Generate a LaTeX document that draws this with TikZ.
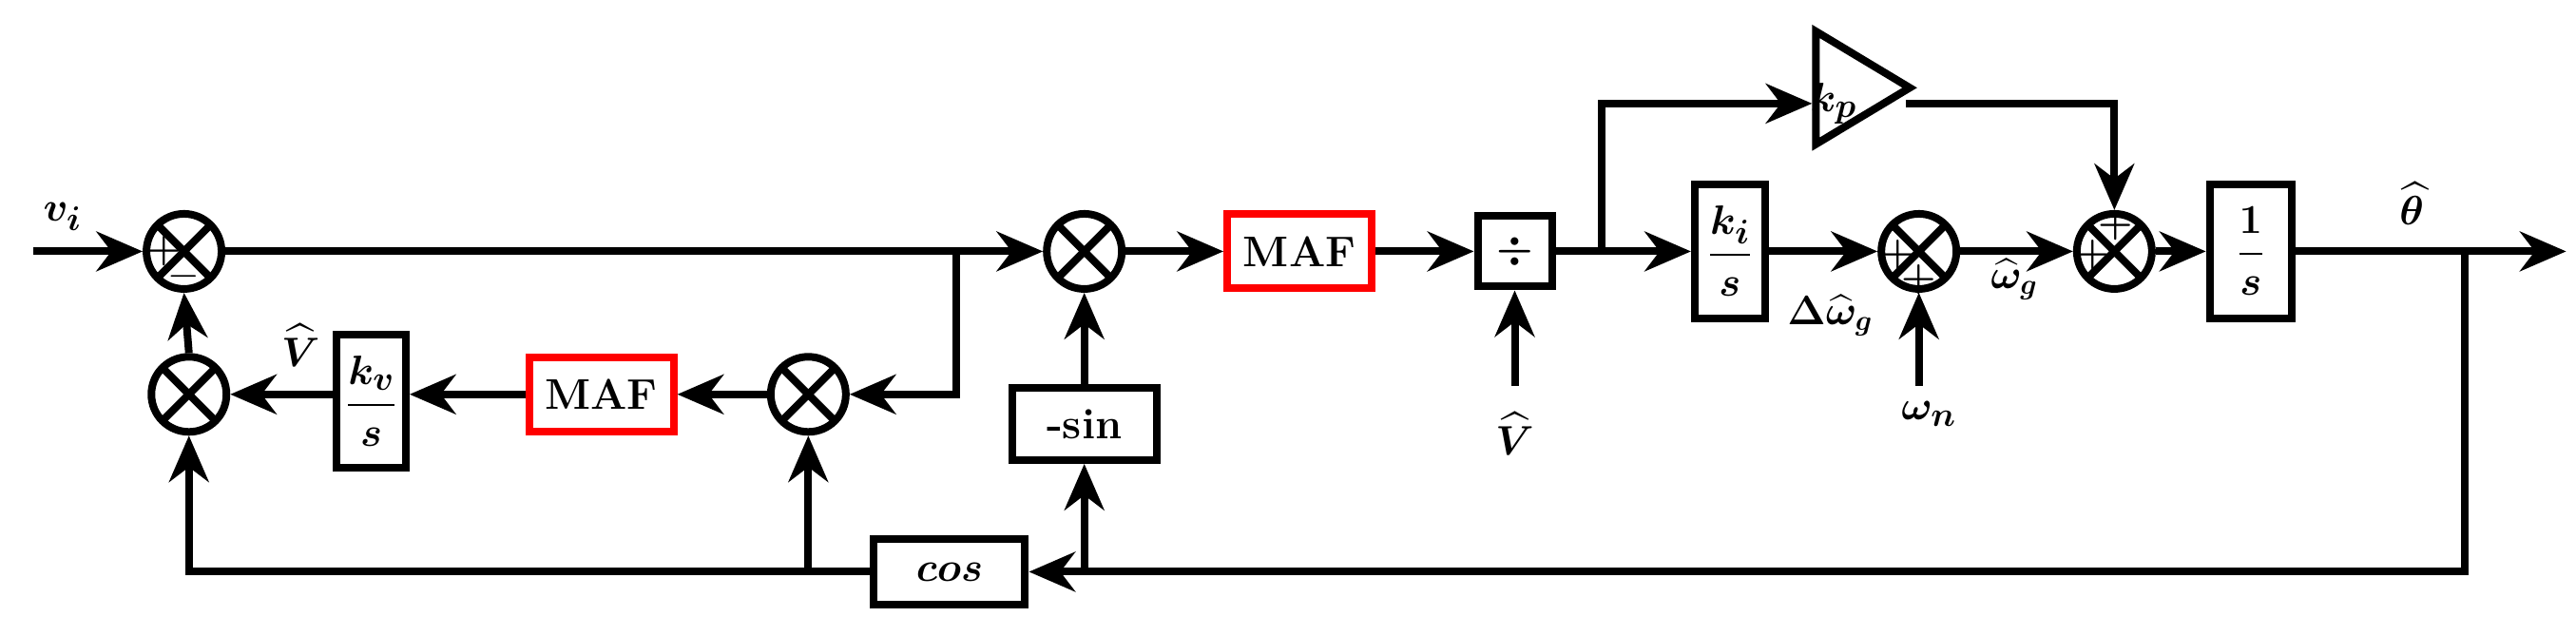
\documentclass[tikz,border=0pt]{standalone}
\usepackage{amsmath,amssymb,bm}
\usetikzlibrary{arrows.meta,shapes.geometric}
\begin{document}
\begin{tikzpicture}[x=0.035cm,y=-0.035cm,
  lw/.style={line width=4.6pt},
  ar/.style={lw,-{Stealth[length=28pt,width=24pt,inset=9pt]}},
  blk/.style={draw,lw,inner sep=0pt,font=\fontsize{28}{30}\selectfont\boldmath},
  maf/.style={blk,draw=red,minimum width=3.08cm,minimum height=1.58cm,font=\fontsize{26}{28}\selectfont\bfseries},
  junc/.style={draw,lw,circle,minimum size=1.6cm,inner sep=0pt,
    path picture={\draw[lw] (path picture bounding box.north west)--(path picture bounding box.south east) (path picture bounding box.north east)--(path picture bounding box.south west);}},
  sg/.style={font=\fontsize{24}{24}\selectfont\bfseries,inner sep=0pt},
  lab/.style={font=\fontsize{30}{32}\selectfont\boldmath,inner sep=0pt}]
\useasboundingbox (0,0) rectangle (1568,387);
% junctions
\node[junc] (s1) at (112,153) {};
\node[junc] (m2) at (492,240) {};
\node[junc] (m3) at (115,240) {};
\node[junc] (m4) at (660,153) {};
\node[junc] (s3) at (1168,153) {};
\node[junc] (s4) at (1287,153) {};
\node[sg] at (100,153) {+}; \node[sg] at (112,168) {$-$};
\node[sg] at (1155,155) {+}; \node[sg] at (1168,170) {+};
\node[sg] at (1274,155) {+}; \node[sg] at (1288,137) {+};
% blocks
\node[maf] (maf1) at (366,240) {MAF};
\node[blk,minimum width=1.47cm,minimum height=2.84cm] (kv) at (226,244) {$\dfrac{k_v}{s}$};
\node[blk,minimum width=3.22cm,minimum height=1.4cm] (cos) at (578,348) {$cos$};
\node[blk,minimum width=3.08cm,minimum height=1.54cm,font=\fontsize{26}{28}\selectfont\bfseries] (sin) at (660,258) {-sin};
\node[maf] (maf2) at (791,153) {MAF};
\node[blk,minimum width=1.58cm,minimum height=1.5cm] (div) at (922,153) {$\boldsymbol{\div}$};
\node[blk,minimum width=1.5cm,minimum height=2.84cm] (ki) at (1053,153) {$\dfrac{k_i}{s}$};
\node[blk,minimum width=1.75cm,minimum height=2.84cm] (int) at (1370,153) {$\dfrac{1}{s}$};
\node[draw,lw,isosceles triangle,isosceles triangle apex angle=62,minimum height=2.0cm,inner sep=0pt,anchor=left corner] (kp) at (1103,15) {};
\node[lab] at (1116,63) {$k_p$};
% coordinates
\coordinate (vi) at (20,153);
\coordinate (b1) at (582,153);
\coordinate (b2) at (1500,153);
\coordinate (c1) at (492,348);
\coordinate (c2) at (660,348);
\coordinate (vh) at (922,235);
\coordinate (b3) at (975,153);
\coordinate (wn) at (1168,235);
\coordinate (out) at (1562,153);
\coordinate (kpout) at (1160,63);
\coordinate (kpin) at (1103,63);
% connectors
\draw[ar] (vi) -- (s1.west);
\draw[ar] (s1.east) -- (m4.west);
\draw[ar] (b1) |- (m2.east);
\draw[ar] (m2.west) -- (maf1.east);
\draw[ar] (maf1.west) -- (maf1.west -| kv.east);
\draw[ar] (kv.west |- m3.east) -- (m3.east);
\draw[ar] (m3.north) -- (s1.south);
\draw[ar] (b2) |- (cos.east);
\draw[ar] (cos.west) -| (m3.south);
\draw[ar] (c1) -- (m2.south);
\draw[ar] (c2) -- (sin.south);
\draw[ar] (sin.north) -- (m4.south);
\draw[ar] (m4.east) -- (maf2.west);
\draw[ar] (maf2.east) -- (div.west);
\draw[ar] (vh) -- (div.south);
\draw[lw] (div.east) -- (b3);
\draw[ar] (b3) -- (ki.west);
\draw[ar] (b3) |- (kpin);
\draw[ar] (ki.east) -- (s3.west);
\draw[ar] (wn) -- (s3.south);
\draw[ar] (s3.east) -- (s4.west);
\draw[ar] (kpout) -| (s4.north);
\draw[ar] (s4.east) -- (int.west);
\draw[ar] (int.east) -- (out);
% labels
\node[lab] at (38,132) {$v_i$};
\node[lab] at (183,210) {$\widehat{V}$};
\node[lab] at (922,264) {$\widehat{V}$};
\node[lab] at (1174,252) {$\omega_n$};
\node[lab,font=\fontsize{24}{26}\selectfont\boldmath] at (1114,192) {$\Delta\widehat{\omega}_g$};
\node[lab,font=\fontsize{24}{26}\selectfont\boldmath] at (1226,170) {$\widehat{\omega}_g$};
\node[lab] at (1468,124) {$\widehat{\theta}$};
\end{tikzpicture}
\end{document}
